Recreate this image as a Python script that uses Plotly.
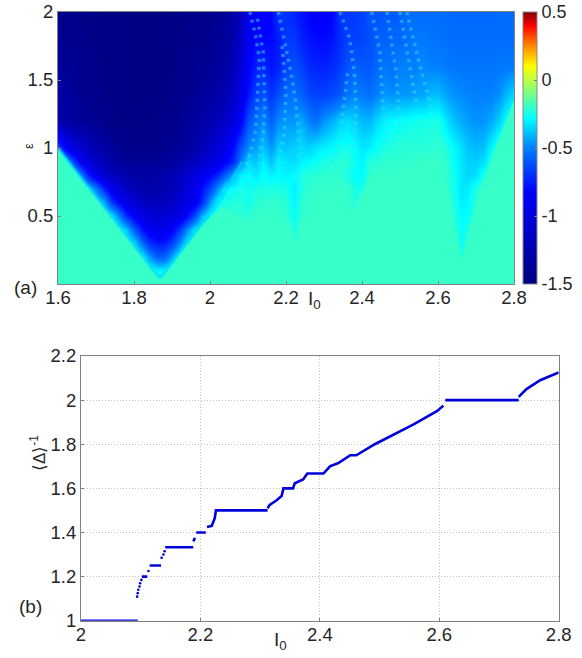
import numpy as np
import plotly.graph_objects as go

W, H = 582, 658
FONT = "Liberation Sans, Arial, sans-serif"
TXT = "#262626"

# ---- panel (a) map ----
map_x = [round(1.6 + 0.02 * i, 2) for i in range(61)]
map_y = [0.0, 0.1, 0.2, 0.3, 0.4, 0.5, 0.6, 0.7, 0.8, 0.9, 1.0, 1.2, 1.4, 1.6, 1.8, 2.0]
B5 = [-20, -20, -20, -20, -20]
# values, in hundredths, low epsilon to high epsilon
rows = [
    B5 + B5 + [-20, -20, -20, -22, -22] + B5*9 + [-20],
    B5 + B5 + [-20, -20, -26, -30, -30] + [-26, -20, -20, -20, -20] + B5*8 + [-20],
    B5 + B5 + [-28, -28, -45, -58, -58] + [-42, -26, -21, -20, -20] + B5*6 + [-20, -20, -20, -24, -21] + B5 + [-20],
    [-28]*5 + [-28]*5 + [-34, -55, -70, -76, -76] + [-66, -48, -30, -26, -22] + B5*2 + [-20, -22, -20, -20, -20] + B5*3 + [-20, -20, -20, -26, -24] + B5 + [-20],
    [-28]*5 + [-28, -28, -28, -28, -36] + [-58, -76, -88, -92, -92] + [-82, -66, -48, -30, -26] + [-24, -22, -20, -20, -20] + B5 + [-20, -24, -20, -20, -20] + B5*3 + [-20, -20, -21, -27, -25] + B5 + [-20],
    [-30]*5 + [-30, -30, -30, -50, -70] + [-85, -95, -102, -105, -105] + [-100, -92, -80, -62, -40] + [-28, -24, -22, -21, -21] + [-22, -20, -20, -20, -20] + [-21, -27, -21, -20, -20] + B5*3 + [-20, -20, -22, -29, -27] + [-21, -20, -20, -20, -20] + [-20],
    [-32]*5 + [-32, -42, -66, -82, -96] + [-106, -112, -116, -118, -116] + [-112, -105, -96, -86, -72] + [-46, -27, -24, -23, -23] + [-25, -22, -21, -21, -21] + [-22, -29, -22, -20, -20] + [-20, -20, -20, -20, -23] + [-23, -20, -20, -20, -20] + B5 + [-20, -20, -23, -31, -29] + [-22, -20, -20, -20, -20] + [-20],
    [-34, -34, -34, -34, -34] + [-50, -72, -90, -104, -112] + [-120, -125, -127, -127, -124] + [-118, -110, -100, -90, -78] + [-64, -46, -29, -27, -25] + [-26, -24, -24, -23, -24] + [-24, -31, -24, -21, -20] + [-20, -20, -20, -20, -24] + [-26, -21, -20, -20, -20] + B5 + [-20, -21, -25, -32, -31] + [-23, -20, -20, -20, -20] + [-20],
    [-36, -36, -36, -50, -74] + [-92, -105, -115, -122, -127] + [-130, -131, -131, -129, -126] + [-122, -116, -108, -98, -90] + [-82, -72, -58, -42, -30] + [-28, -32, -27, -30, -28] + [-30, -28, -24, -22, -22] + [-21, -21, -21, -24, -28] + [-28, -20, -20, -20, -20] + B5 + [-20, -21, -25, -32, -35] + [-33, -24, -20, -20, -20] + [-20],
    [-40, -40, -62, -85, -100] + [-112, -120, -127, -133, -136] + [-138, -138, -138, -137, -135] + [-132, -128, -122, -115, -108] + [-100, -92, -84, -72, -52] + [-34, -38, -30, -38, -30] + [-32, -34, -30, -28, -26] + [-24, -23, -22, -22, -26] + [-30, -22, -22, -21, -21] + [-21, -21, -20, -20, -20] + [-20, -21, -27, -32, -36] + [-36, -33, -24, -20, -20] + [-20],
    [-60, -85, -98, -108, -118] + [-124, -130, -136, -140, -142] + [-143, -143, -143, -142, -141] + [-139, -136, -132, -127, -120] + [-112, -102, -92, -80, -62] + [-48, -44, -38, -46, -36] + [-38, -36, -34, -36, -32] + [-30, -28, -26, -25, -27] + [-32, -30, -26, -24, -23] + [-22, -22, -22, -22, -22] + [-21, -23, -28, -33, -38] + [-40, -38, -29, -21, -20] + [-20],
    [-125, -130, -133, -136, -138] + [-140, -143, -145, -146, -146] + [-146, -146, -146, -145, -144] + [-142, -140, -137, -133, -128] + [-124, -118, -110, -100, -86] + [-62, -54, -48, -58, -48] + [-46, -46, -42, -50, -54] + [-46, -42, -36, -34, -36] + [-40, -40, -34, -30, -28] + [-27, -26, -25, -25, -24] + [-24, -32, -38, -42, -45] + [-47, -46, -43, -36, -26] + [-21],
    [-130, -133, -136, -139, -142] + [-144, -145, -146, -146, -147] + [-147, -147, -147, -147, -146] + [-145, -143, -141, -138, -135] + [-132, -128, -122, -112, -96] + [-78, -66, -62, -70, -62] + [-56, -54, -58, -64, -66] + [-66, -64, -60, -54, -50] + [-52, -54, -50, -46, -48] + [-46, -46, -44, -44, -40] + [-40, -44, -47, -48, -49] + [-50, -50, -50, -47, -41] + [-34],
    [-136, -138, -140, -142, -144] + [-145, -146, -146, -147, -147] + [-147, -147, -147, -147, -147] + [-146, -144, -143, -141, -139] + [-136, -134, -128, -120, -104] + [-84, -74, -72, -78, -74] + [-66, -62, -66, -72, -74] + [-74, -72, -68, -62, -58] + [-60, -60, -56, -52, -54] + [-50, -50, -50, -48, -50] + [-50, -51, -52, -53, -53] + [-53, -53, -53, -52, -52] + [-51],
    [-140, -141, -142, -144, -145] + [-146, -146, -146, -147, -147] + [-147, -147, -147, -147, -147] + [-146, -145, -144, -143, -141] + [-140, -138, -134, -126, -112] + [-88, -80, -82, -80, -76] + [-68, -68, -74, -78, -80] + [-80, -78, -72, -66, -66] + [-65, -62, -58, -58, -56] + [-56, -54, -52, -52, -53] + [-53, -54, -55, -55, -55] + [-55, -55, -55, -55, -55] + [-54],
    [-142, -143, -144, -145, -145] + [-146, -146, -146, -147, -147] + [-147, -147, -147, -147, -147] + [-147, -146, -145, -144, -143] + [-142, -140, -136, -130, -118] + [-92, -86, -84, -82, -68] + [-70, -74, -78, -82, -85] + [-85, -82, -70, -68, -68] + [-66, -60, -62, -60, -60] + [-58, -54, -55, -55, -55] + [-55, -55, -56, -56, -56] + [-56, -56, -56, -55, -55] + [-55],
]
for r in rows:
    assert len(r) == 61, len(r)
map_z = (np.array(rows) / 100).tolist()

# flat background region with its sharp edges, in data units
flat_x = [1.6, 1.6, 1.865, 1.872, 1.974, 2.03, 2.09, 2.21, 2.224, 2.238, 2.37, 2.42, 2.611, 2.663, 2.675, 2.71, 2.75, 2.797, 2.8, 2.8]
flat_y = [0.0, 1.0, 0.05, 0.05, 0.42, 0.57, 0.47, 0.47, 0.30, 0.47, 0.50, 0.8, 0.9, 0.18, 0.35, 0.69, 1.0, 1.33, 1.35, 0.0]
edge_x = [1.6, 1.865, 1.872, 1.974, 2.03, 2.085]
edge_y = [1.0, 0.05, 0.05, 0.42, 0.63, 0.9]

# beaded streaks in the upper part of the map
streak_x = [2.105, 2.118, 2.13, 2.125, 2.12, 2.105, 2.085, 2.05, None,
            2.125, 2.14, 2.145, 2.14, 2.125, 2.09, None,
            2.18, 2.195, 2.21, 2.225, 2.233, 2.235, 2.228, 2.225, None,
            2.19, 2.2, 2.195, 2.18, 2.15, None,
            2.342, 2.368, 2.38, 2.385, 2.378, 2.37, None,
            2.362, 2.35, 2.342, 2.33, 2.31, None,
            2.426, 2.447, 2.455, 2.465, 2.46, None,
            2.466, 2.49, 2.495, 2.50, None,
            2.50, 2.525, 2.545, None,
            2.518, 2.553, 2.587]
streak_y = [2.0, 1.85, 1.66, 1.4, 1.13, 0.95, 0.8, 0.62, None,
            1.95, 1.7, 1.3, 1.1, 0.85, 0.7, None,
            2.0, 1.8, 1.6, 1.35, 1.1, 0.9, 0.75, 0.55, None,
            1.75, 1.4, 1.1, 0.9, 0.78, None,
            2.0, 1.8, 1.55, 1.25, 1.05, 0.95, None,
            1.55, 1.3, 1.1, 0.95, 0.85, None,
            2.0, 1.7, 1.3, 1.1, 1.0, None,
            2.0, 1.55, 1.35, 1.15, None,
            2.0, 1.6, 1.3, None,
            2.0, 1.6, 1.25]

cscale = [
    [0.00, "#00007f"], [0.34, "#0000ff"], [0.50, "#0080ff"], [0.61, "#00ffff"],
    [0.705, "#80ff80"], [0.80, "#ffff00"], [0.88, "#ff8000"], [0.95, "#ff0000"], [1.00, "#7f0000"],
]
cb_ticks = [-1.5, -1, -0.5, 0, 0.5]

# ---- panel (b) staircase ----
dots_x = [2.094, 2.095, 2.096, 2.098, 2.099, 2.101, 2.113, 2.135, 2.138, 2.140]
dots_y = [1.109, 1.125, 1.14, 1.155, 1.17, 1.185, 1.225, 1.285, 1.30, 1.315]
step_x = [2.0, 2.095, None, 2.102, 2.111, None, 2.115, 2.134, None, 2.141, 2.188, None,
          2.188, 2.191, None, 2.193, 2.209, None, 2.211, 2.219, 2.224, 2.226, 2.3125, None,
          2.3125, 2.316, 2.327, 2.336, 2.339, 2.355, 2.358, 2.372, 2.379, 2.406,
          2.417, 2.431, 2.451, 2.461, 2.492, 2.557, 2.596, 2.607, None,
          2.610, 2.733, None, 2.733, 2.746, 2.769, 2.8]
step_y = [1.0, 1.0, None, 1.2, 1.2, None, 1.25, 1.25, None, 1.333, 1.333, None,
          1.36, 1.375, None, 1.4, 1.4, None, 1.425, 1.43, 1.465, 1.5, 1.5, None,
          1.51, 1.525, 1.545, 1.565, 1.6, 1.6, 1.623, 1.64, 1.667, 1.667,
          1.70, 1.715, 1.75, 1.75, 1.80, 1.89, 1.95, 1.975, None,
          2.0, 2.0, None, 2.015, 2.05, 2.09, 2.125]

def dom_x(a, b):
    return [a / W, b / W]

def dom_y(top, bottom):
    return [1 - bottom / H, 1 - top / H]

fig = go.Figure()
fig.add_trace(go.Heatmap(
    x=map_x, y=map_y, z=map_z, zmin=-1.5, zmax=0.5, zsmooth="best", colorscale=cscale,
    xaxis="x", yaxis="y", showscale=True,
    colorbar=dict(
        x=523 / W, xanchor="left", xref="paper", thickness=14, thicknessmode="pixels",
        y=1 - 284 / H, yanchor="bottom", yref="paper", len=272 / H, lenmode="fraction",
        tickvals=cb_ticks, ticktext=["-1.5", "-1", "-0.5", "0", "0.5"],
        ticks="inside", ticklen=3, tickcolor="#777777", outlinecolor="#888888", outlinewidth=1,
        xpad=0, ypad=0, tickfont=dict(family=FONT, size=18, color=TXT),
    ),
))
fig.add_trace(go.Scatter(x=flat_x, y=flat_y, mode="lines", fill="toself", fillcolor="#36ffc9",
                         line=dict(width=0, color="#36ffc9"), xaxis="x", yaxis="y", showlegend=False))
fig.add_trace(go.Scatter(x=edge_x, y=edge_y, mode="lines", opacity=0.6,
                         line=dict(width=3, color="#00d8ff"), xaxis="x", yaxis="y", showlegend=False))
fig.add_trace(go.Scatter(x=streak_x, y=streak_y, mode="lines", opacity=0.5,
                         line=dict(width=3.5, color="#40d8ff", dash="3px,5px"),
                         xaxis="x", yaxis="y", showlegend=False))
fig.add_trace(go.Scatter(x=step_x, y=step_y, mode="lines", xaxis="x2", yaxis="y2",
                         line=dict(color="#0000dc", width=2.6), showlegend=False))
fig.add_trace(go.Scatter(x=dots_x, y=dots_y, mode="markers", xaxis="x2", yaxis="y2",
                         marker=dict(color="#0000dc", size=2.6), showlegend=False))

axis_common = dict(showline=True, mirror=True, linecolor="#808080", linewidth=1,
                   ticks="inside", ticklen=3, tickcolor="#808080", zeroline=False,
                   tickfont=dict(family=FONT, size=18.5, color=TXT))
fig.update_layout(
    width=W, height=H, margin=dict(l=0, r=0, t=0, b=0, autoexpand=False), autosize=False,
    paper_bgcolor="white", plot_bgcolor="white", showlegend=False,
    xaxis=dict(domain=dom_x(58, 514), range=[1.6, 2.8], tickvals=[1.6, 1.8, 2, 2.2, 2.4, 2.6, 2.8],
               ticktext=["1.6", "1.8", "2", "2.2", "2.4", "2.6", "2.8"], showgrid=False, anchor="y",
               ticklabelstandoff=-3, **axis_common),
    yaxis=dict(domain=dom_y(12, 284), range=[0, 2], tickvals=[0.5, 1, 1.5, 2],
               ticktext=["0.5", "1", "1.5", "2"], showgrid=False, anchor="x", **axis_common),
    xaxis2=dict(domain=dom_x(81, 558.7), range=[2, 2.8], tickvals=[2, 2.2, 2.4, 2.6, 2.8],
                ticktext=["2", "2.2", "2.4", "2.6", "2.8"], showgrid=True, gridcolor="#c0c0c0",
                griddash="1px,2px", gridwidth=1, anchor="y2", ticklabelstandoff=-3, **axis_common),
    yaxis2=dict(domain=dom_y(356, 620.7), range=[1, 2.2], tickvals=[1, 1.2, 1.4, 1.6, 1.8, 2, 2.2],
                ticktext=["1", "1.2", "1.4", "1.6", "1.8", "2", "2.2"], showgrid=True, gridcolor="#c0c0c0",
                griddash="1px,2px", gridwidth=1, anchor="x2", **axis_common),
)

def note(text, px, py, size, angle=0):
    fig.add_annotation(text=text, x=px / W, y=1 - py / H, xref="paper", yref="paper",
                       xanchor="center", yanchor="middle", showarrow=False, textangle=angle,
                       font=dict(family=FONT, size=size, color=TXT))

note("ε", 28, 146, 13, -90)
note("I<sub>0</sub>", 314, 300, 19)
note("(a)", 25, 287, 19)
note("(b)", 30, 606, 19)
note("I<sub>0</sub>", 280, 641, 19)
note("⟨Δ⟩<sup>-1</sup>", 38, 453, 17, -90)

fig.write_html("out.html", config={"displayModeBar": False},
               post_script="document.body.style.margin='0';document.documentElement.style.overflow='hidden';")
